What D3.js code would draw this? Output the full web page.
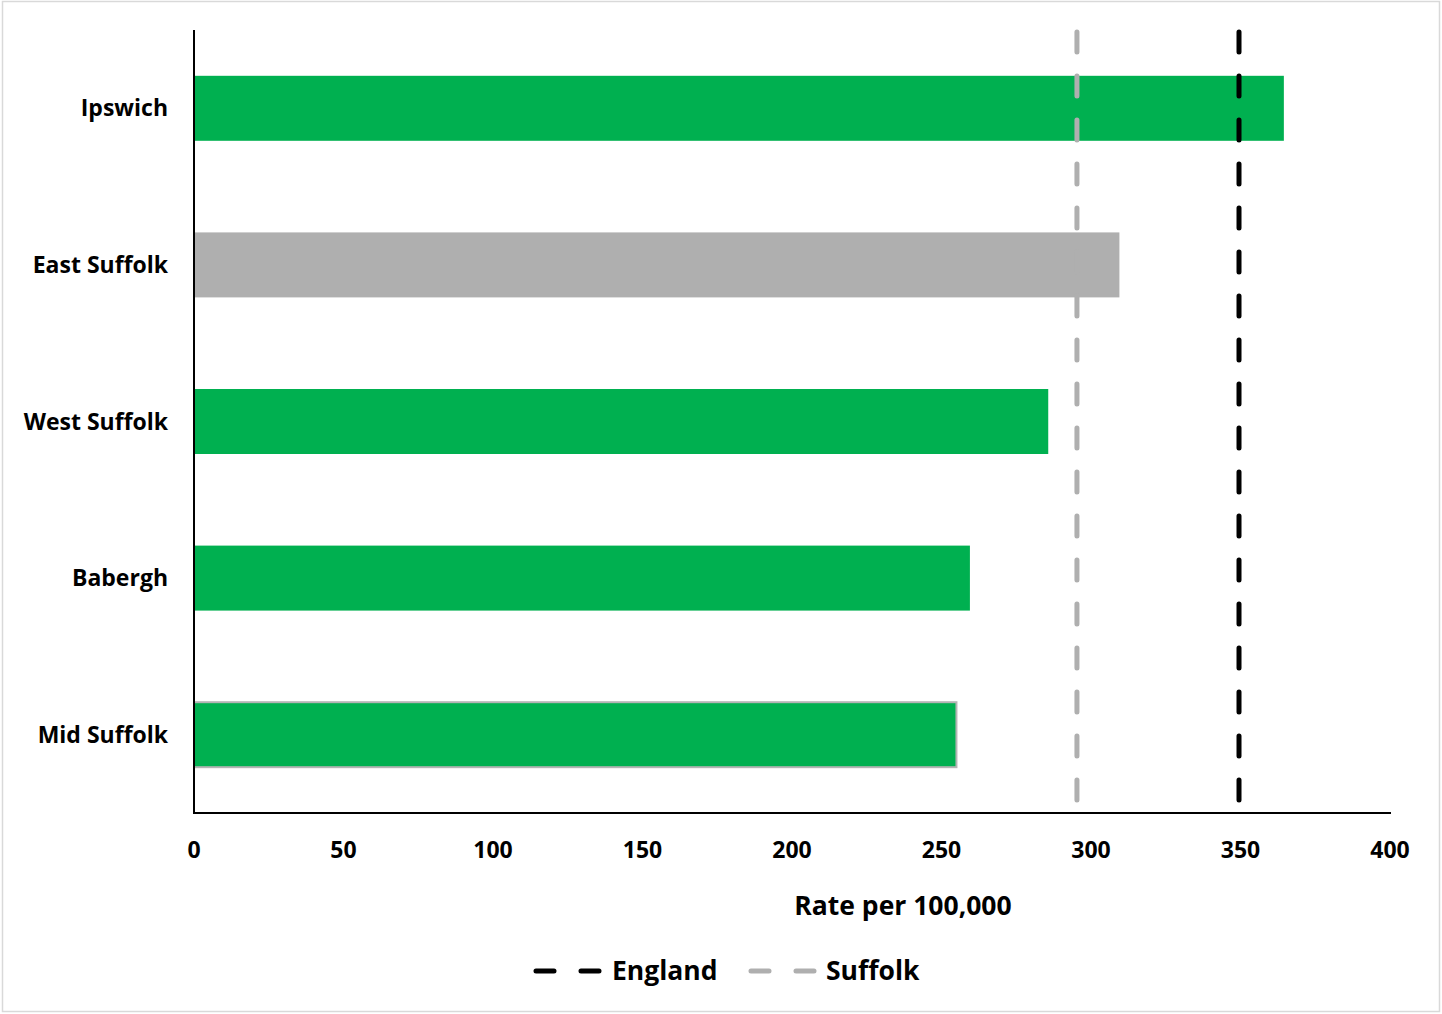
<!DOCTYPE html>
<html><head><meta charset="utf-8">
<script src="https://cdn.jsdelivr.net/npm/d3@7"></script>
<style>
html,body{margin:0;padding:0;background:#fff;}
text{font-family:"Open Sans","Noto Sans",sans-serif;font-weight:bold;fill:#000;}
</style></head>
<body>
<script>
const categories = ["Ipswich","East Suffolk","West Suffolk","Babergh","Mid Suffolk"];
const values = [364.5, 309.5, 285.7, 259.5, 255];
const barColors = ["#00b050","#afafaf","#00b050","#00b050","#00b050"];
const barStroke = [null,null,null,null,"#b4b4b4"];
const englandValue = 349.5;
const suffolkValue = 295.3;
const xTicks = [0,50,100,150,200,250,300,350,400];
const legendItems = [{name:"England", color:"#000000"},{name:"Suffolk", color:"#afafaf"}];

(function(){
const W = 1442, H = 1014;
const svg = d3.select("body").append("svg").attr("width",W).attr("height",H);
svg.append("rect").attr("x",2.5).attr("y",1.5).attr("width",1437).attr("height",1010)
  .attr("fill","#fff").attr("stroke","#d9d9d9").attr("stroke-width",1.5);

const pL=194, pR=1390, pT=30, pB=813;
const x = d3.scaleLinear().domain([0,400]).range([pL,pR]);
const y = d3.scaleBand().domain(categories).range([pT,pB]).paddingInner(0.585).paddingOuter(0.2925);

svg.selectAll("rect.bar").data(categories).enter().append("rect").attr("class","bar")
  .attr("x",x(0)).attr("y",d=>y(d)).attr("width",(d,i)=>x(values[i])-x(0)).attr("height",y.bandwidth())
  .attr("fill",(d,i)=>barColors[i])
  .attr("stroke",(d,i)=>barStroke[i]||"none").attr("stroke-width",2);

[[suffolkValue,"#afafaf"],[englandValue,"#000"]].forEach(([v,c])=>{
  svg.append("line").attr("x1",x(v)).attr("x2",x(v)).attr("y1",pT+2).attr("y2",pB)
    .attr("stroke",c).attr("stroke-width",5).attr("stroke-linecap","round")
    .attr("stroke-dasharray","20,24");
});

svg.append("line").attr("x1",pL).attr("x2",pL).attr("y1",pT).attr("y2",pB).attr("stroke","#000").attr("stroke-width",2);
svg.append("line").attr("x1",pL-1).attr("x2",pR+1).attr("y1",pB).attr("y2",pB).attr("stroke","#000").attr("stroke-width",2);

svg.selectAll("text.xt").data(xTicks).enter().append("text").attr("class","xt")
  .attr("x",d=>x(d)).attr("y",858).attr("text-anchor","middle").attr("font-size",23).text(d=>d);

svg.selectAll("text.yl").data(categories).enter().append("text").attr("class","yl")
  .attr("x",168).attr("y",d=>y(d)+y.bandwidth()/2+8).attr("text-anchor","end").attr("font-size",23).text(d=>d);

svg.append("text").attr("x",903).attr("y",915).attr("text-anchor","middle").attr("font-size",26.5).text("Rate per 100,000");

const lg = [[533,612],[748,826]];
legendItems.forEach((it,i)=>{
  const [lx,tx]=lg[i];
  svg.append("line").attr("x1",lx+3).attr("x2",lx+66).attr("y1",971).attr("y2",971)
    .attr("stroke",it.color).attr("stroke-width",5).attr("stroke-linecap","round").attr("stroke-dasharray","18,27");
  svg.append("text").attr("x",tx).attr("y",980).attr("font-size",26.5).text(it.name);
});
})();
</script>
</body></html>
